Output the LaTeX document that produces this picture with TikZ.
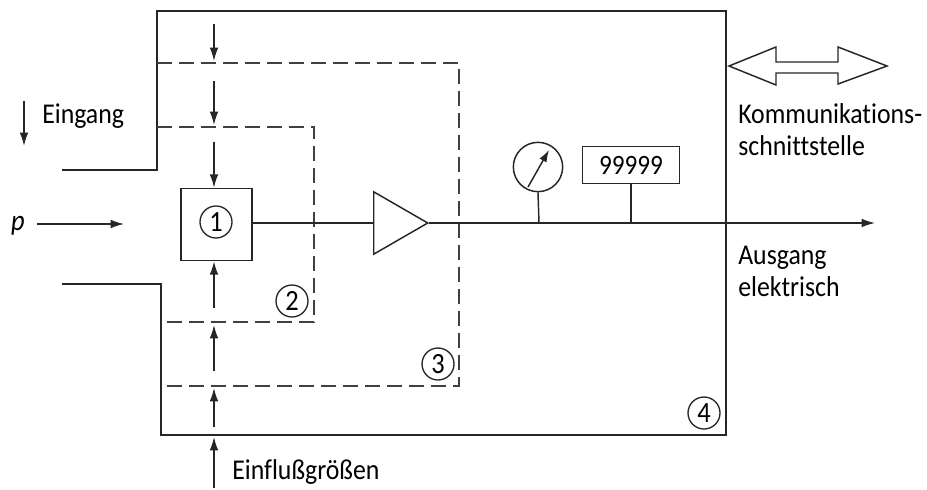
\documentclass[tikz,border=0pt]{standalone}
\usepackage{fontspec}
\setmainfont[FakeStretch=0.9,Ligatures=NoCommon]{Carlito}
\usetikzlibrary{arrows.meta,shapes.geometric}
\begin{document}
\begin{tikzpicture}
     [
     x=0.75pt, y=-0.75pt,
     wall/.style={draw=black!85, line width=1.4pt, line join=miter},
     zone/.style={draw=black!75, line width=1.2pt, dash pattern=on 11.5pt off 5pt},
     signal/.style={draw=black!85, line width=1.1pt},
     effect/.style={draw=black!85, line width=1.1pt, -{Latex[length=10pt,width=6.5pt]}},
     sensorbox/.style={rectangle, draw=black!85, line width=1.2pt, minimum width=53pt, minimum height=54pt, inner sep=0pt},
     displaybox/.style={rectangle, draw=black!85, line width=1.2pt, minimum width=73pt, minimum height=28pt, inner sep=0pt, font=\fontsize{21}{22}\selectfont},
     amplifier/.style={isosceles triangle, isosceles triangle apex angle=60, draw=black!85, line width=1.1pt, minimum height=40.5pt, inner sep=0pt},
     meter/.style={circle, draw=black!85, line width=1.1pt, minimum size=37pt, inner sep=0pt},
     numbered/.style={circle, draw=black!85, line width=1pt, minimum size=24pt, inner sep=0pt, font=\fontsize{22}{22}\selectfont},
     caption/.style={anchor=west, inner sep=0pt, align=left, font=\fontsize{21.5}{24}\selectfont},
     ]
 \useasboundingbox (0,0) rectangle (927,489);
 % housing corners
 \coordinate (inup) at (62,170);
 \coordinate (inlow) at (62,284);
 \coordinate (outa) at (157,170);
 \coordinate (outb) at (157,11);
 \coordinate (outc) at (726,11);
 \coordinate (outd) at (726,435);
 \coordinate (oute) at (161,435);
 \coordinate (outf) at (161,284);
 \draw[wall] (inup) -- (outa) -- (outb) -- (outc) -- (outd) -- (oute) -- (outf) -- (inlow);
 % dashed zones
 \coordinate (za) at (157,63);
 \coordinate (zb) at (459,63);
 \coordinate (zc) at (459,386);
 \coordinate (zd) at (161,386);
 \draw[zone] (za) -- (zb) -- (zc) -- (zd);
 \coordinate (ya) at (157,127);
 \coordinate (yb) at (314,127);
 \coordinate (yc) at (314,322);
 \coordinate (yd) at (161,322);
 \draw[zone] (ya) -- (yb) -- (yc) -- (yd);
 % signal path
 \node at (216.5,224.5) [sensorbox] (sensor) {};
 \node at (216,222) [numbered] (num1) {1};
 \node at (373,223) [amplifier, anchor=lower side] (amp) {};
 \coordinate (meterfoot) at (539,223);
 \coordinate (displayfoot) at (631,223);
 \coordinate (outend) at (875,223);
 \node at (538,167) [meter] (gauge) {};
 \node at (631,165) [displaybox] (display) {99999};
 \draw[signal] (sensor.east |- amp.lower side) -- (amp.lower side);
 \draw[effect] (amp.apex) -- (outend);
 \draw[signal] (gauge.south) -- (meterfoot);
 \draw[signal] (display.south) -- (displayfoot);
 \coordinate (needlea) at (528,187);
 \coordinate (needleb) at (549,150);
 \draw[signal, -{Latex[length=9pt,width=6pt]}] (needlea) -- (needleb);
 % pressure input
 \node at (18,226) [caption, anchor=center, font=\fontsize{22}{24}\selectfont\itshape] (plabel) {p};
 \coordinate (pstart) at (37,224);
 \coordinate (pend) at (124,224);
 \draw[effect] (pstart) -- (pend);
 \coordinate (eina) at (24,101);
 \coordinate (einb) at (24,146);
 \draw[effect] (eina) -- (einb);
 \node at (42,116) [caption] (eingang) {Eingang};
 % influences from above
 \coordinate (ta) at (214,24);
 \coordinate (tb) at (214,61);
 \coordinate (tc) at (214,81);
 \coordinate (td) at (214,125);
 \coordinate (te) at (214,142);
 \draw[effect] (ta) -- (tb);
 \draw[effect] (tc) -- (td);
 \draw[effect] (te) -- (te |- sensor.north);
 % influences from below
 \coordinate (ba) at (214,308);
 \coordinate (bb) at (214,371);
 \coordinate (bc) at (214,325);
 \coordinate (bd) at (214,427);
 \coordinate (be) at (214,388);
 \coordinate (bf) at (214,488);
 \coordinate (bg) at (214,437);
 \draw[effect] (ba) -- (ba |- sensor.south);
 \draw[effect] (bb) -- (bc);
 \draw[effect] (bd) -- (be);
 \draw[effect] (bf) -- (bg);
 % circled numbers
 \node at (292,301) [numbered] (num2) {2};
 \node at (438,364) [numbered] (num3) {3};
 \node at (704,413) [numbered] (num4) {4};
 % interface arrow
 \coordinate (da) at (729,66);
 \coordinate (db) at (776,47);
 \coordinate (dc) at (776,62);
 \coordinate (dd) at (838,62);
 \coordinate (de) at (838,47);
 \coordinate (df) at (887,66);
 \coordinate (dg) at (838,84);
 \coordinate (dh) at (838,73);
 \coordinate (di) at (776,73);
 \coordinate (dj) at (776,85);
 \draw[signal] (da) -- (db) -- (dc) -- (dd) -- (de) -- (df) -- (dg) -- (dh) -- (di) -- (dj) -- cycle;
 % labels
 \node at (738,130) [caption] (schnitt) {Kommunikations-\\schnittstelle};
 \node at (738,271) [caption] (ausgang) {Ausgang\\elektrisch};
 \node at (232,472) [caption] (einfluss) {Einflußgrößen};
 \end{tikzpicture}
\end{document}
